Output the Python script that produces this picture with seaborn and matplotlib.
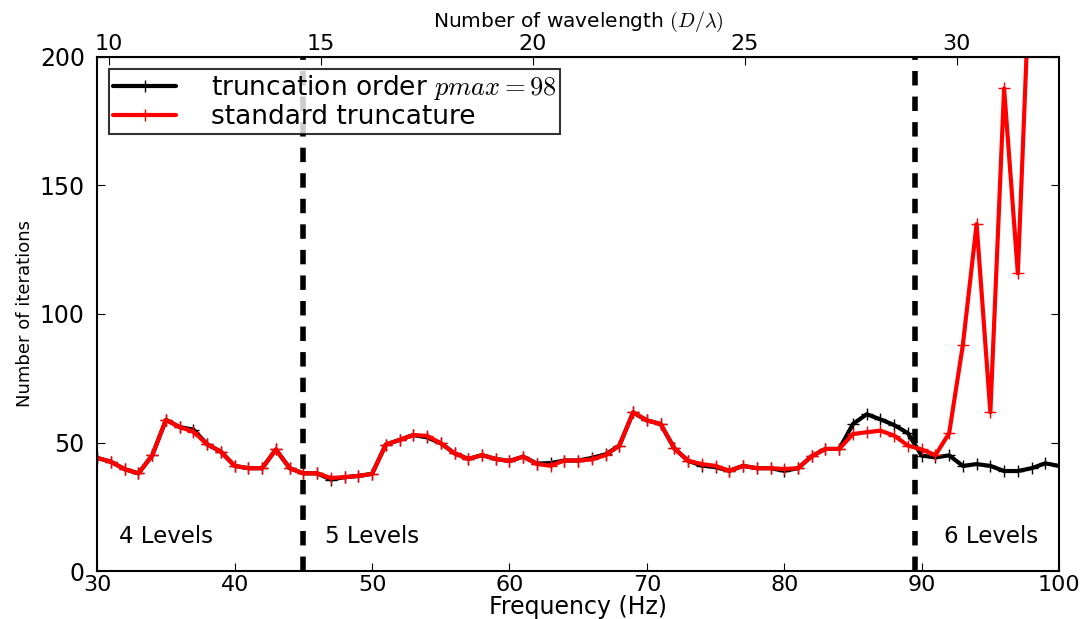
"""
Iteration count vs frequency, truncation order pmax=98 vs standard truncature.
"""
import numpy as np
import pandas as pd
import matplotlib
matplotlib.use("Agg")
import matplotlib.pyplot as plt
import seaborn as sns

# frequency grid (Hz)
freq = list(range(30, 101))

# truncation order pmax = 98 (black)
iters_pmax = [
    44, 42.5, 39.6, 38, 45, 58.8, 56, 55, 49.3, 46.4,
    40.9, 40, 40, 47.3, 40, 38, 38, 35.6, 36.5, 37,
    37.8, 49.2, 51, 52.9, 52, 49.7, 45.8, 43.6, 45.1, 43.6,
    42.8, 44.5, 41.8, 42, 43, 43, 44, 45.4, 48.8, 61.7,
    58.6, 57.2, 47.7, 42.9, 41, 40.4, 39, 40.9, 40, 40,
    39, 40, 44.7, 47.5, 47.5, 57.2, 61, 59, 56.8, 53.6,
    44.9, 44.2, 45, 40.9, 41.6, 40.9, 38.9, 38.9, 40, 41.9,
    40.9,
]

# standard truncature (red) - leaves the frame after 97 Hz
freq_std = list(range(30, 99))
iters_std = [
    44, 42.5, 39.6, 38, 45, 58.8, 56, 54.2, 49.3, 46.4,
    40.9, 40, 40, 47.3, 40, 38, 38, 36.2, 36.5, 37,
    37.8, 49.2, 51, 52.9, 52.6, 49.7, 45.8, 43.6, 45.1, 43.6,
    42.8, 44.5, 41.6, 41, 43, 43, 43.4, 45.1, 48.8, 61.7,
    58.6, 57.2, 47.7, 42.9, 41.6, 40.9, 39, 40.9, 40, 40,
    39.7, 40, 44.7, 47.5, 47.5, 53.3, 54, 54.6, 52.7, 48.8,
    47.3, 45.1, 53.6, 88, 135, 61.7, 187.8, 115.8, 250,
]

level_x = [31.6, 46.6, 91.6]
level_txt = ["4 Levels", "5 Levels", "6 Levels"]
level_bounds = [45, 89.5]

HZ_PER_WAVELENGTH = 3.0855

sns.set_style("ticks")
plt.rcParams.update({
    "font.family": ["DejaVu Sans"],
    "text.color": "black",
    "axes.labelcolor": "black",
    "xtick.color": "black",
    "ytick.color": "black",
    "xtick.direction": "in",
    "ytick.direction": "in",
    "xtick.major.size": 6,
    "ytick.major.size": 6,
    "mathtext.fontset": "cm",
})

df_pmax = pd.DataFrame({"freq": freq, "iters": iters_pmax})
df_std = pd.DataFrame({"freq": freq_std, "iters": iters_std})

fig = plt.figure(figsize=(10.88, 6.19), dpi=100)
ax = fig.add_axes([0.0894, 0.0775, 0.8840, 0.8305])

sns.lineplot(data=df_pmax, x="freq", y="iters", ax=ax, color="black", lw=3,
             marker="+", markersize=8, markeredgewidth=1.0, markeredgecolor="black",
             label=r"truncation order $pmax = 98$")
sns.lineplot(data=df_std, x="freq", y="iters", ax=ax, color="red", lw=3,
             marker="+", markersize=8, markeredgewidth=1.0, markeredgecolor="red",
             label="standard truncature")

for xb in level_bounds:
    ax.axvline(xb, color="black", lw=4, ls=(0, (2.6, 2.0)), zorder=3)

for xt, t in zip(level_x, level_txt):
    ax.text(xt, 9, t, fontsize=16.5, ha="left", va="bottom")

ax.set_xlim(30, 100)
ax.set_ylim(0, 200)
ax.set_xticks(range(30, 101, 10))
ax.set_yticks(range(0, 201, 50))
ax.tick_params(axis="x", labelsize=16, top=False, pad=3)
ax.tick_params(axis="y", labelsize=17, right=True, pad=9)
ax.set_xlabel("Frequency (Hz)", fontsize=17, labelpad=0)
ax.set_ylabel("Number of iterations", fontsize=13, labelpad=4)
for sp in ax.spines.values():
    sp.set_linewidth(1.5)
    sp.set_color("black")

top = ax.secondary_xaxis("top", functions=(lambda f: f / HZ_PER_WAVELENGTH,
                                           lambda n: n * HZ_PER_WAVELENGTH))
top.set_xticks(range(10, 31, 5))
top.tick_params(direction="in", labelsize=16, length=6, pad=2)
top.set_xlabel(r"Number of wavelength $(D/\lambda)$", fontsize=14.5, labelpad=5)

leg = ax.legend(loc="upper left", fontsize=19, frameon=True, fancybox=False,
                handlelength=2.4, borderaxespad=0.45, borderpad=0.15,
                labelspacing=0.1, handletextpad=1.3)
leg.get_frame().set_edgecolor("black")
leg.get_frame().set_linewidth(1.5)

fig.savefig("out.png", dpi=100)
